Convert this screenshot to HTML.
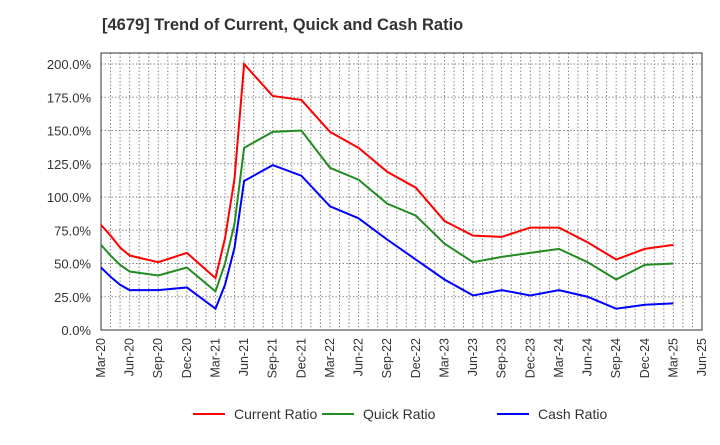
<!DOCTYPE html>
<html><head><meta charset="utf-8"><style>
body{margin:0;background:#fff;font-family:"Liberation Sans",sans-serif}
</style></head><body>
<svg id="c" width="720" height="440" xmlns="http://www.w3.org/2000/svg">
<text x="102" y="30" font-size="16.5" font-weight="bold" fill="#333">[4679]  Trend of Current, Quick and Cash Ratio</text>
</svg>
<script>
const months=[0,1,2,3,6,9,12,13,14,15,18,21,24,27,30,33,36,39,42,45,48,51,54,57,60];
const currentRatio=[79,71,62,56,51,58,39,69,114,200,176,173,149,137,119,107,82,71,70,77,77,66,53,61,64];
const quickRatio=[64,56,49,44,41,47,29,50,80,137,149,150,122,113,95,86,65,51,55,58,61,51,38,49,50];
const cashRatio=[47,40,34,30,30,32,16,34,62,112,124,116,93,84,68,53,38,26,30,26,30,25,16,19,20];
const yTicks=[0,25,50,75,100,125,150,175,200];
const xLabels=["Mar-20","Jun-20","Sep-20","Dec-20","Mar-21","Jun-21","Sep-21","Dec-21","Mar-22","Jun-22","Sep-22","Dec-22","Mar-23","Jun-23","Sep-23","Dec-23","Mar-24","Jun-24","Sep-24","Dec-24","Mar-25","Jun-25"];
const L=101,R=702,T=53,B=330,NM=63,YMAX=208.3;
const X=m=>L+m*(R-L)/NM, Y=v=>B-v*(B-T)/YMAX;
const s=document.getElementById('c'),NS="http://www.w3.org/2000/svg";
function mk(t,a,p){const e=document.createElementNS(NS,t);for(const k in a)e.setAttribute(k,a[k]);(p||s).appendChild(e);return e;}
const g=mk('g',{});


for(let m=1;m<NM;m++){mk('line',{x1:X(m),x2:X(m),y1:T,y2:B,stroke:'#888','stroke-dasharray':'1.5,2','stroke-width':1},g);}
yTicks.forEach(v=>{mk('line',{x1:L,x2:R,y1:Y(v),y2:Y(v),stroke:'#888','stroke-dasharray':'1.5,2','stroke-width':1},g);
const t=mk('text',{x:L-10,y:Y(v)+5,'font-size':13,fill:'#333','text-anchor':'end'});t.textContent=v.toFixed(1)+'%';

});
const ax=mk('rect',{x:L,y:T,width:R-L,height:B-T,fill:'none',stroke:'#333','stroke-width':1});


xLabels.forEach((lb,i)=>{const x=X(i*3);const t=mk('text',{x:x+4,y:B+8,'font-size':12.5,fill:'#333','text-anchor':'end',transform:`rotate(-90 ${x+4} ${B+8})`});t.textContent=lb;

});
const series=[[currentRatio,'#f00','current-ratio-line','Current Ratio'],[quickRatio,'#228b22','quick-ratio-line','Quick Ratio'],[cashRatio,'#00f','cash-ratio-line','Cash Ratio']];
series.forEach(([d,c,n])=>{const p=mk('polyline',{points:d.map((v,i)=>X(months[i])+','+Y(v)).join(' '),fill:'none',stroke:c,'stroke-width':2});

});
const lx=[193,322,497];
series.forEach(([d,c,n,lab],i)=>{const lg=mk('g',{});


mk('line',{x1:lx[i],x2:lx[i]+32,y1:414,y2:414,stroke:c,'stroke-width':2},lg);
const t=mk('text',{x:lx[i]+41,y:419,'font-size':14,fill:'#333'},lg);t.textContent=lab;});
</script>
</body></html>
